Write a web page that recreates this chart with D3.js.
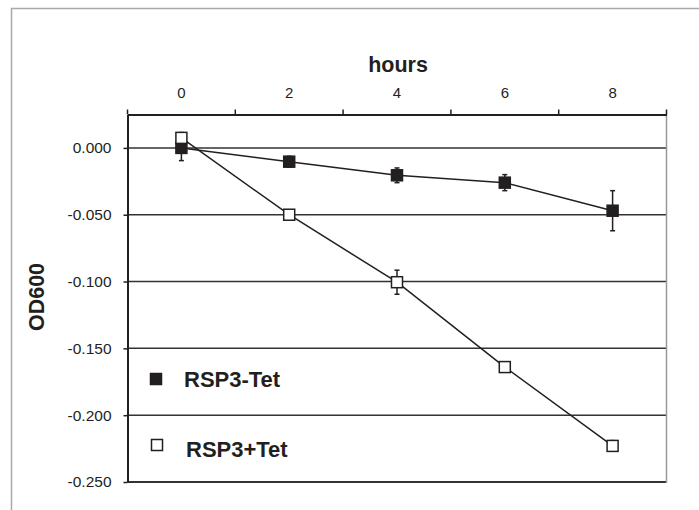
<!DOCTYPE html>
<html>
<head>
<meta charset="utf-8">
<script src="https://cdn.jsdelivr.net/npm/d3@7"></script>
<style>
  body { margin: 0; background: #fff; }
  text { font-family: "Liberation Sans", Arial, sans-serif; fill: #231f20; }
</style>
</head>
<body>
<svg></svg>
<script>
// data
var hours = ["0", "2", "4", "6", "8"];
var yTicks = [0, -0.05, -0.1, -0.15, -0.2, -0.25];
var minusTet = [0.000, -0.0103, -0.0205, -0.026, -0.047];
var minusTetErr = [0.0095, 0.004, 0.0055, 0.006, 0.015];
var plusTet = [0.0075, -0.050, -0.1005, -0.164, -0.223];
var plusTetErr = [0.004, 0.001, 0.009, 0.003, 0.004];

var width = 699, height = 510;
// plot box (note: "top" is reserved on window, so use plot* names)
var plotL = 127.5, plotR = 666.5, plotT = 114.5, plotB = 482;
var ink = "#231f20";

var svg = d3.select("svg").attr("width", width).attr("height", height);

// outer frame
svg.append("rect")
  .attr("x", 11.5).attr("y", 8.5)
  .attr("width", 800).attr("height", 600)
  .attr("fill", "none").attr("stroke", "#a8a8a8").attr("stroke-width", 1.5);

var x = d3.scaleBand().domain(hours).range([plotL, plotR]);
var y = d3.scaleLinear().domain([-0.25, 0.025]).range([plotB, plotT]);

// plain hyphen for negatives, like the original
var fmt = d3.formatLocale({ decimal: ".", thousands: ",", grouping: [3], currency: ["", ""], minus: "-" }).format(".3f");

// horizontal gridlines
svg.selectAll(".grid")
  .data(yTicks.slice(0, 5))
  .enter().append("line")
  .attr("x1", plotL).attr("x2", plotR)
  .attr("y1", d => y(d)).attr("y2", d => y(d))
  .attr("stroke", "#333").attr("stroke-width", 1.5);

// bottom edge + right edge of plot
svg.append("line").attr("x1", plotL).attr("x2", plotR)
  .attr("y1", plotB).attr("y2", plotB)
  .attr("stroke", "#333").attr("stroke-width", 2);
svg.append("line").attr("x1", plotR).attr("x2", plotR)
  .attr("y1", plotT).attr("y2", plotB + 1)
  .attr("stroke", "#999").attr("stroke-width", 1.5);

// left axis
var yAxis = d3.axisLeft(y).tickValues(yTicks).tickFormat(d => fmt(d === 0 ? 0 : d))
  .tickSize(4).tickPadding(12).tickSizeOuter(0);
var gy = svg.append("g").attr("transform", "translate(" + plotL + ",0)").call(yAxis);
gy.attr("font-size", null).attr("font-family", null);
gy.select(".domain").attr("stroke", ink).attr("stroke-width", 2);
gy.selectAll(".tick line").attr("stroke", ink).attr("stroke-width", 1.5);
gy.selectAll(".tick text").style("font-size", "15.5px").attr("fill", ink);

// top axis: labels centred in bands, ticks at band edges
var xAxis = d3.axisTop(x).tickSize(0).tickPadding(17).tickSizeOuter(0);
var gx = svg.append("g").attr("transform", "translate(0," + plotT + ")").call(xAxis);
gx.attr("font-size", null).attr("font-family", null);
gx.select(".domain").attr("stroke", ink).attr("stroke-width", 2);
gx.selectAll(".tick text").style("font-size", "15px").attr("fill", ink);
var edges = hours.map(d => x(d)).concat([x.range()[1]]);
svg.selectAll(".xtick")
  .data(edges)
  .enter().append("line")
  .attr("x1", d => d).attr("x2", d => d)
  .attr("y1", plotT - 5).attr("y2", plotT)
  .attr("stroke", ink).attr("stroke-width", 1.5);

svg.append("text")
  .attr("x", 398).attr("y", 71.7)
  .attr("text-anchor", "middle")
  .style("font-size", "21.5px").attr("font-weight", "bold")
  .text("hours");

svg.append("text")
  .attr("transform", "translate(43.5,297) rotate(-90)")
  .attr("text-anchor", "middle")
  .style("font-size", "21.5px").attr("font-weight", "bold")
  .text("OD600");

var cx = d => x(d) + x.bandwidth() / 2;
var line = d3.line().x((d, i) => cx(hours[i])).y(d => y(d));
var ms = 11, cap = 2.5;

function drawSeries(vals, errs, fill) {
  var g = svg.append("g");
  g.append("path").datum(vals)
    .attr("d", line).attr("fill", "none")
    .attr("stroke", ink).attr("stroke-width", 1.5);
  var eb = g.selectAll(".eb").data(vals).enter().append("g");
  eb.append("line")
    .attr("x1", (d, i) => cx(hours[i])).attr("x2", (d, i) => cx(hours[i]))
    .attr("y1", (d, i) => y(d + errs[i])).attr("y2", (d, i) => y(d - errs[i]))
    .attr("stroke", ink).attr("stroke-width", 1.5);
  [1, -1].forEach(function (s) {
    eb.append("line")
      .attr("x1", (d, i) => cx(hours[i]) - cap).attr("x2", (d, i) => cx(hours[i]) + cap)
      .attr("y1", (d, i) => y(d + s * errs[i])).attr("y2", (d, i) => y(d + s * errs[i]))
      .attr("stroke", ink).attr("stroke-width", 1.5);
  });
  g.selectAll(".m").data(vals).enter().append("rect")
    .attr("x", (d, i) => cx(hours[i]) - ms / 2)
    .attr("y", d => y(d) - ms / 2)
    .attr("width", ms).attr("height", ms)
    .attr("fill", fill).attr("stroke", ink).attr("stroke-width", 1.5);
}

drawSeries(minusTet, minusTetErr, ink);
drawSeries(plusTet, plusTetErr, "#fff");

// legend
var legend = [
  { name: "RSP3-Tet", fill: ink, mx: 156, my: 379, tx: 184, ty: 387.3 },
  { name: "RSP3+Tet", fill: "#fff", mx: 157, my: 445, tx: 186, ty: 456.7 }
];
legend.forEach(function (l) {
  svg.append("rect")
    .attr("x", l.mx - 5.5).attr("y", l.my - 5.5)
    .attr("width", 11).attr("height", 11)
    .attr("fill", l.fill).attr("stroke", ink).attr("stroke-width", 1.5);
  svg.append("text")
    .attr("x", l.tx).attr("y", l.ty)
    .style("font-size", "22px").attr("font-weight", "bold")
    .text(l.name);
});
</script>
</body>
</html>
